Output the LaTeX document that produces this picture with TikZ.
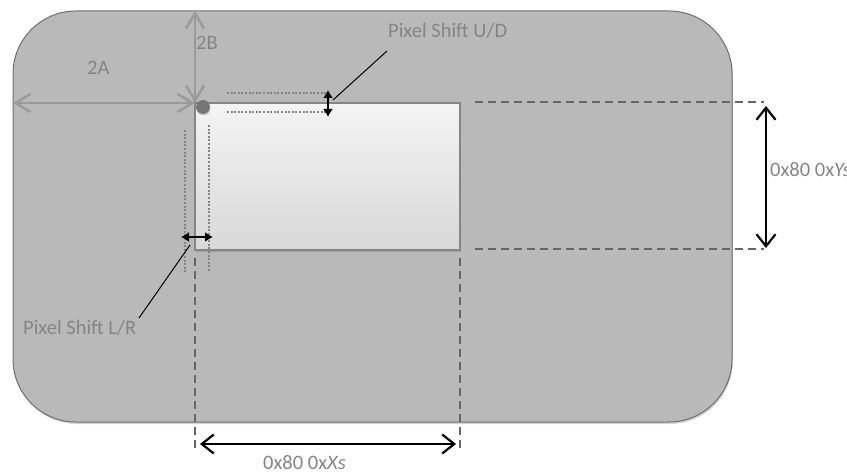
\documentclass[tikz,border=0pt]{standalone}
\usepackage{fontspec}
\setmainfont{Carlito}
\usetikzlibrary{arrows.meta,shadows}
\definecolor{boardfill}{HTML}{B9B9B9}
\definecolor{boardedge}{HTML}{6E6E6E}
\definecolor{labelgray}{HTML}{858585}
\definecolor{dimcol}{HTML}{9A9A9A}
\definecolor{dotcol}{HTML}{858585}
\definecolor{dashcol}{HTML}{666666}
\definecolor{screentop}{HTML}{F4F4F4}
\definecolor{screenbot}{HTML}{D8D8D8}
\definecolor{screenedge}{HTML}{858585}
\definecolor{pincol}{HTML}{767676}
\begin{document}
\begin{tikzpicture}[x=1pt,y=-1pt,
  lbl/.style={text=labelgray, font=\fontsize{20.5}{24}\selectfont, inner sep=0pt, anchor=base west},
  dimgray/.style={draw=dimcol, line width=2.5pt, {Straight Barb[length=15pt,width=18pt]}-{Straight Barb[length=15pt,width=18pt]}},
  dimblack/.style={draw=black, line width=2.2pt, {Straight Barb[length=12pt,width=19pt]}-{Straight Barb[length=12pt,width=19pt]}},
  shiftarrow/.style={draw=black, line width=1.5pt, {Latex[length=8pt,width=10pt]}-{Latex[length=8pt,width=10pt]}},
  dotline/.style={draw=dotcol, line width=2pt, dash pattern=on 2pt off 1.6pt},
  dashline/.style={draw=dashcol, line width=2pt, dash pattern=on 8pt off 5pt},
  leader/.style={draw=black, line width=1pt}
]
\useasboundingbox (0,0) rectangle (847,473);
% board
\node (board) at (372.5,216.5) [rectangle, rounded corners=63pt, minimum width=719pt, minimum height=411pt,
  draw=boardedge, line width=1pt, fill=boardfill, inner sep=0pt, outer sep=0pt,
  drop shadow={shadow xshift=1pt, shadow yshift=-2pt, opacity=0.35}] {};
% screen
\node (screen) at (327.5,176.5) [rectangle, minimum width=265pt, minimum height=147pt, inner sep=0pt, outer sep=0pt,
  top color=screentop, bottom color=screenbot, draw=screenedge, line width=2pt,
  drop shadow={shadow xshift=1pt, shadow yshift=-2pt, opacity=0.4}] {};
% pin dot
\node (pin) at (203,107) [circle, fill=pincol, minimum size=14pt, inner sep=0pt,
  drop shadow={shadow xshift=0.5pt, shadow yshift=-1.5pt, opacity=0.3}] {};
% 2A / 2B dimensions
\coordinate (aL) at (13,103);
\coordinate (bT) at (195,11);
\draw[dimgray] (aL) -- (screen.north west);
\draw[dimgray] (bT) -- (screen.north west);
\node[lbl] (lA) at (87,75) {2A};
\node[lbl] (lB) at (196,50) {2B};
% dotted shift guides
\coordinate (h1a) at (227,93);  \coordinate (h1b) at (327,93);
\coordinate (h2a) at (227,112); \coordinate (h2b) at (327,112);
\coordinate (v1a) at (185,130); \coordinate (v1b) at (185,272);
\coordinate (v2a) at (209,125); \coordinate (v2b) at (209,272);
\draw[dotline] (h1a) -- (h1b);
\draw[dotline] (h2a) -- (h2b);
\draw[dotline] (v1a) -- (v1b);
\draw[dotline] (v2a) -- (v2b);
% shift arrows
\coordinate (udT) at (328,90);  \coordinate (udB) at (328,117);
\coordinate (lrL) at (181,237); \coordinate (lrR) at (213,237);
\draw[shiftarrow] (udT) -- (udB);
\draw[shiftarrow] (lrL) -- (lrR);
% labels and leaders
\node[lbl] (lUD) at (388,38) {Pixel Shift U/D};
\node[lbl] (lLR) at (23,335) {Pixel Shift L/R};
\coordinate (udLeadA) at (387,51); \coordinate (udLeadB) at (333,100);
\coordinate (lrLeadA) at (190,245); \coordinate (lrLeadB) at (139,318);
\draw[leader] (udLeadA) -- (udLeadB);
\draw[leader] (lrLeadA) -- (lrLeadB);
% dashed extension lines
\coordinate (d1a) at (195,258); \coordinate (d1b) at (195,450);
\coordinate (d2a) at (460,258); \coordinate (d2b) at (460,450);
\coordinate (d3a) at (475,102); \coordinate (d3b) at (764,102);
\coordinate (d4a) at (475,249); \coordinate (d4b) at (764,249);
\draw[dashline] (d1a) -- (d1b);
\draw[dashline] (d2a) -- (d2b);
\draw[dashline] (d3a) -- (d3b);
\draw[dashline] (d4a) -- (d4b);
% size arrows
\coordinate (yT) at (766,106); \coordinate (yB) at (766,248);
\coordinate (xL) at (200,444); \coordinate (xR) at (456,444);
\draw[dimblack] (yT) -- (yB);
\draw[dimblack] (xL) -- (xR);
\node[lbl] (lY) at (770,177) {0x80 0x\textit{Ys}};
\node[lbl] (lX) at (263,469) {0x80 0x\textit{Xs}};
\end{tikzpicture}
\end{document}
